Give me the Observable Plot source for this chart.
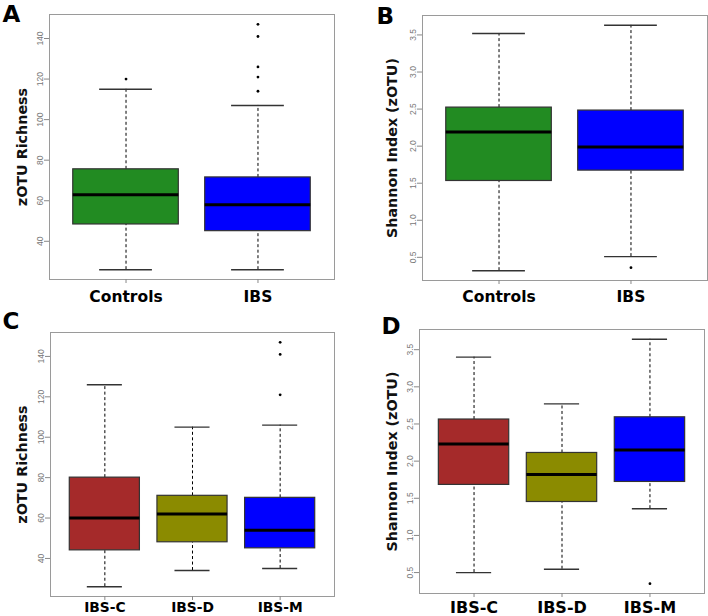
<!DOCTYPE html>
<html><head><meta charset="utf-8">
<script src="https://cdn.jsdelivr.net/npm/d3@7"></script>
<script src="https://cdn.jsdelivr.net/npm/@observablehq/plot@0.6"></script>
<style>
body{margin:0;background:#fff;}
#wrap{position:relative;width:708px;height:616px;overflow:hidden;background:#fff;}
.panel{position:absolute;}
</style></head><body><div id="wrap"></div>
<script>
// ---- data ----
const groupsTop = ["Controls", "IBS"];
const groupsBottom = ["IBS-C", "IBS-D", "IBS-M"];
const colorsTop = ["#228B22", "#0000FF"];
const colorsBottom = ["#A52A2A", "#8B8B00", "#0000FF"];

const richnessTicks = [40, 60, 80, 100, 120, 140];
const shannonTicks = [0.5, 1.0, 1.5, 2.0, 2.5, 3.0, 3.5];

// Panel A: zOTU richness, Controls vs IBS
const richTopLow = [26, 26];
const richTopQ1 = [48.3, 45];
const richTopMedian = [63, 58];
const richTopQ3 = [75.5, 71.5];
const richTopHigh = [115, 107];
const richTopOutliers = [[120], [147, 141, 126, 121, 114]];

// Panel B: Shannon index, Controls vs IBS
const shanTopLow = [0.32, 0.51];
const shanTopQ1 = [1.53, 1.67];
const shanTopMedian = [2.19, 1.99];
const shanTopQ3 = [2.52, 2.48];
const shanTopHigh = [3.52, 3.63];
const shanTopOutliers = [[], [0.36]];

// Panel C: zOTU richness by IBS subtype
const richBotLow = [26, 34, 35];
const richBotQ1 = [44, 48, 45];
const richBotMedian = [60, 62, 54];
const richBotQ3 = [80, 71, 70];
const richBotHigh = [126, 105, 106];
const richBotOutliers = [[], [], [147, 141, 121]];

// Panel D: Shannon index by IBS subtype
const shanBotLow = [0.50, 0.545, 1.36];
const shanBotQ1 = [1.68, 1.45, 1.72];
const shanBotMedian = [2.23, 1.82, 2.15];
const shanBotQ3 = [2.56, 2.11, 2.59];
const shanBotHigh = [3.40, 2.77, 3.64];
const shanBotOutliers = [[], [], [0.35]];

function panel(cfg) {
  const n = cfg.groups.length;
  const rows = cfg.groups.map((g, k) => ({
    g, i: k + 1, low: cfg.low[k], q1: cfg.q1[k], med: cfg.med[k],
    q3: cfg.q3[k], high: cfg.high[k], color: cfg.colors[k]
  }));
  const outs = cfg.outliers.flatMap((arr, k) => arr.map(v => ({i: k + 1, v})));
  const all = [...cfg.low, ...cfg.high, ...outs.map(d => d.v)];
  const lo = d3.min(all), hi = d3.max(all), pad = (hi - lo) * 0.04;
  const [mt, mr, mb, ml] = cfg.margin;
  const fmt = cfg.fmt;
  return Plot.plot({
    width: cfg.width, height: cfg.height,
    marginTop: mt, marginRight: mr, marginBottom: mb, marginLeft: ml,
    style: {background: "transparent", fontFamily: "'DejaVu Sans', sans-serif", overflow: "visible"},
    x: {type: "linear", domain: [0.5 - n * 0.04, n + 0.5 + n * 0.04]},
    y: {domain: [lo - pad, hi + pad]},
    color: {type: "identity"},
    marks: [
      Plot.frame({stroke: "#9a9a9a", strokeWidth: 1}),
      Plot.ruleX(rows, {x: "i", y1: "q3", y2: "high", stroke: "#000", strokeWidth: 1, strokeDasharray: "3,2.5"}),
      Plot.ruleX(rows, {x: "i", y1: "low", y2: "q1", stroke: "#000", strokeWidth: 1, strokeDasharray: "3,2.5"}),
      Plot.ruleY(rows, {y: "high", x1: d => d.i - 0.2, x2: d => d.i + 0.2, stroke: "#333", strokeWidth: 1.4}),
      Plot.ruleY(rows, {y: "low", x1: d => d.i - 0.2, x2: d => d.i + 0.2, stroke: "#333", strokeWidth: 1.4}),
      Plot.rect(rows, {x1: d => d.i - 0.4, x2: d => d.i + 0.4, y1: "q1", y2: "q3", fill: "color", stroke: "#333", strokeWidth: 1.2}),
      Plot.ruleY(rows, {y: "med", x1: d => d.i - 0.4, x2: d => d.i + 0.4, stroke: "#000", strokeWidth: 3}),
      Plot.dot(outs, {x: "i", y: "v", r: 1.4, fill: "#000", stroke: null}),
      Plot.axisY(cfg.ticks, {tickSize: 5, tickFormat: () => "", stroke: "#888", label: null}),
      Plot.text(cfg.ticks, {y: d => d, frameAnchor: "left", dx: -7, text: d => fmt(d), rotate: -90,
        textAnchor: "middle", lineAnchor: "bottom", fontSize: 8.5, fill: "#777",
        fontFamily: "'Liberation Sans', Arial, sans-serif"}),
      Plot.axisX(rows.map(d => d.i), {tickSize: 4, tickFormat: () => "", stroke: "#888", label: null}),
      Plot.text(rows, {x: "i", text: "g", frameAnchor: "bottom", dy: cfg.xLabelDy, lineAnchor: "top",
        textAnchor: "middle", fontSize: cfg.xFont, fontWeight: "bold", fill: "#000"}),
      Plot.text([cfg.title], {frameAnchor: "left", dx: cfg.titleX - ml, rotate: -90, textAnchor: "middle",
        lineAnchor: "middle", fontSize: 14.3, fontWeight: "bold", fill: "#111"}),
      Plot.text([cfg.letter], {frameAnchor: "top-left", dx: cfg.letterX - ml, dy: cfg.letterY - mt,
        textAnchor: "start", lineAnchor: "top", fontSize: 23, fontWeight: "bold", fill: "#000"})
    ]
  });
}

const f0 = d => String(d);
const f1 = d => d.toFixed(1);

const configs = [
  {left: 0, top: 0, width: 354, height: 310, margin: [14, 20, 31, 49],
   groups: groupsTop, colors: colorsTop, low: richTopLow, q1: richTopQ1, med: richTopMedian,
   q3: richTopQ3, high: richTopHigh, outliers: richTopOutliers, ticks: richnessTicks, fmt: f0,
   title: "zOTU Richness", titleX: 22, letter: "A", letterX: 2, letterY: 5, xFont: 15.5, xLabelDy: 11},
  {left: 354, top: 0, width: 354, height: 310, margin: [15, 1, 30, 68],
   groups: groupsTop, colors: colorsTop, low: shanTopLow, q1: shanTopQ1, med: shanTopMedian,
   q3: shanTopQ3, high: shanTopHigh, outliers: shanTopOutliers, ticks: shannonTicks, fmt: f1,
   title: "Shannon Index (zOTU)", titleX: 37.5, letter: "B", letterX: 22, letterY: 7, xFont: 15.5, xLabelDy: 10},
  {left: 0, top: 300, width: 354, height: 316, margin: [32, 20, 20, 50],
   groups: groupsBottom, colors: colorsBottom, low: richBotLow, q1: richBotQ1, med: richBotMedian,
   q3: richBotQ3, high: richBotHigh, outliers: richBotOutliers, ticks: richnessTicks, fmt: f0,
   title: "zOTU Richness", titleX: 22, letter: "C", letterX: 2, letterY: 12, xFont: 13.8, xLabelDy: 5.7},
  {left: 354, top: 300, width: 354, height: 316, margin: [29, 4, 23, 65],
   groups: groupsBottom, colors: colorsBottom, low: shanBotLow, q1: shanBotQ1, med: shanBotMedian,
   q3: shanBotQ3, high: shanBotHigh, outliers: shanBotOutliers, ticks: shannonTicks, fmt: f1,
   title: "Shannon Index (zOTU)", titleX: 37.5, letter: "D", letterX: 27, letterY: 17, xFont: 16, xLabelDy: 8.4}
];

const wrap = document.getElementById("wrap");
for (const cfg of configs) {
  const div = document.createElement("div");
  div.className = "panel";
  div.style.left = cfg.left + "px";
  div.style.top = cfg.top + "px";
  div.appendChild(panel(cfg));
  wrap.appendChild(div);
}
</script>
</body></html>
